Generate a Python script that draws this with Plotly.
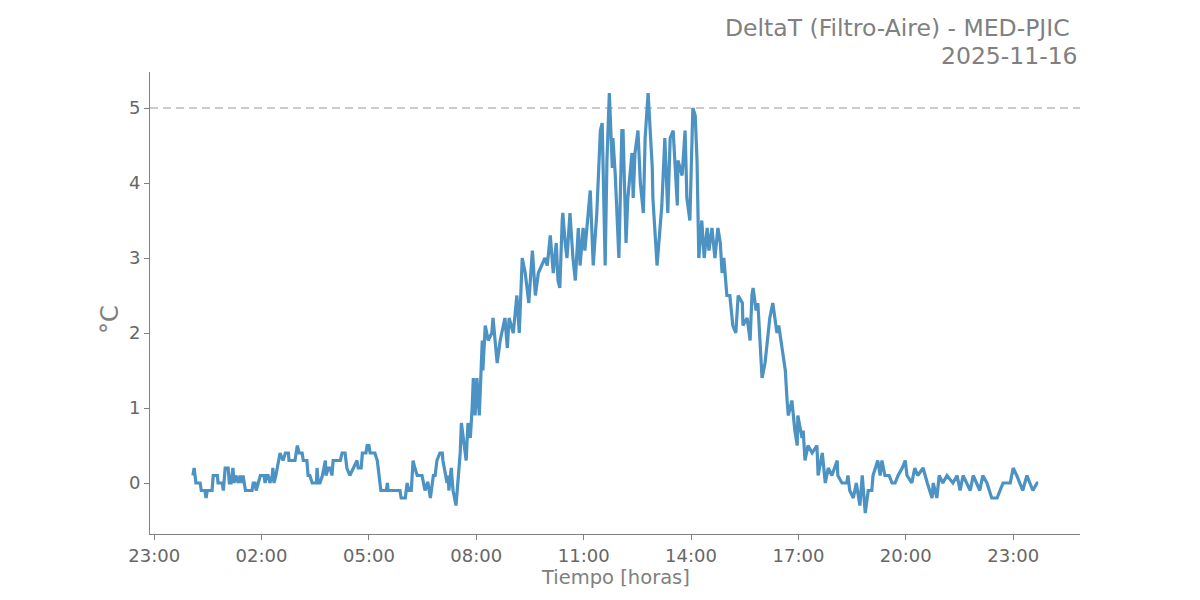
"""DeltaT (Filtro-Aire) time series for MED-PJIC, 2025-11-16."""

import pandas as pd
import plotly.graph_objects as go

DAY = "2025-11-16"
TITLE_LINE_1 = "DeltaT (Filtro-Aire) - MED-PJIC"
TITLE_LINE_2 = "2025-11-16"
X_LABEL = "Tiempo [horas]"
Y_LABEL = "°C"
THRESHOLD = 5

# minutes after midnight of DAY
minutes = [
    5, 7, 10, 17, 19, 25, 27, 29, 37, 39,
    46, 47, 54, 56, 57, 59, 64, 66, 69, 72,
    74, 77, 81, 84, 87, 89, 93, 104, 106, 109,
    111, 114, 118, 124, 126, 128, 131, 134, 138, 139,
    141, 144, 148, 151, 156, 160, 165, 166, 176, 180,
    183, 188, 190, 196, 198, 201, 205, 212, 213, 215,
    218, 222, 227, 228, 232, 235, 238, 240, 252, 255,
    260, 263, 268, 274, 280, 282, 287, 289, 295, 297,
    300, 302, 310, 314, 317, 320, 329, 331, 332, 352,
    354, 361, 364, 367, 371, 374, 377, 381, 389, 391,
    394, 398, 399, 403, 408, 411, 414, 419, 423, 424,
    428, 431, 433, 434, 438, 441, 446, 449, 451, 453,
    455, 458, 463, 466, 470, 473, 475, 478, 481, 485,
    490, 491, 495, 500, 506, 508, 512, 515, 520, 525,
    528, 532, 535, 542, 548, 552, 557, 562, 568, 574,
    579, 584, 590, 595, 599, 604, 609, 614, 617, 620,
    624, 625, 629, 632, 637, 642, 646, 651, 654, 659,
    662, 666, 671, 676, 682, 688, 691, 696, 699, 703,
    708, 709, 713, 719, 724, 726, 731, 734, 741, 743,
    746, 751, 755, 760, 763, 768, 775, 776, 783, 788,
    791, 796, 801, 805, 810, 817, 818, 825, 830, 833,
    838, 843, 847, 850, 853, 858, 862, 867, 870, 875,
    880, 885, 889, 892, 895, 900, 905, 910, 915, 919,
    926, 927, 934, 939, 942, 944, 949, 952, 959, 964,
    967, 972, 977, 984, 987, 993, 998, 1001, 1003, 1009,
    1014, 1018, 1019, 1026, 1028, 1031, 1036, 1043, 1051, 1053,
    1060, 1065, 1070, 1076, 1085, 1086, 1093, 1101, 1103, 1106,
    1112, 1117, 1123, 1127, 1132, 1137, 1143, 1145, 1153, 1157,
    1160, 1165, 1172, 1177, 1182, 1187, 1194, 1199, 1202, 1210,
    1215, 1220, 1229, 1236, 1244, 1246, 1252, 1256, 1262, 1269,
    1279, 1286, 1291, 1296, 1308, 1313, 1324, 1329, 1336, 1344,
    1353, 1358, 1363, 1375, 1380, 1386, 1391, 1396, 1403, 1408,
    1413, 1420, 1422,
]

delta_t = [
    0.1, 0.2, 0.0, 0.0, -0.1, -0.1, -0.2, -0.1, -0.1, 0.1,
    0.1, 0.0, 0.0, -0.1, 0.0, 0.2, 0.2, 0.0, 0.0, 0.2,
    0.0, 0.1, 0.0, 0.1, 0.0, 0.1, -0.1, -0.1, 0.0, 0.0,
    -0.1, 0.0, 0.1, 0.1, 0.0, 0.1, 0.1, 0.0, 0.1, 0.2,
    0.0, 0.1, 0.3, 0.4, 0.3, 0.4, 0.4, 0.3, 0.3, 0.5,
    0.4, 0.4, 0.3, 0.3, 0.1, 0.1, 0.0, 0.0, 0.2, 0.0,
    0.0, 0.1, 0.3, 0.1, 0.2, 0.2, 0.1, 0.3, 0.3, 0.4,
    0.4, 0.2, 0.1, 0.2, 0.3, 0.2, 0.2, 0.4, 0.4, 0.5,
    0.5, 0.4, 0.4, 0.3, 0.1, -0.1, -0.1, 0.0, -0.1, -0.1,
    -0.2, -0.2, 0.0, -0.1, -0.1, 0.3, 0.2, 0.1, 0.1, 0.0,
    -0.1, 0.0, 0.0, -0.2, 0.1, 0.1, 0.3, 0.4, 0.4, 0.3,
    0.1, 0.0, 0.1, -0.1, 0.2, -0.1, -0.3, 0.0, 0.3, 0.4,
    0.8, 0.6, 0.3, 0.8, 0.6, 1.0, 1.4, 0.9, 1.4, 0.9,
    1.9, 1.5, 2.1, 1.9, 2.0, 2.2, 1.8, 1.6, 1.9, 2.1,
    2.2, 1.8, 2.2, 2.0, 2.5, 2.0, 3.0, 2.8, 2.4, 3.1,
    2.5, 2.8, 2.9, 3.0, 2.9, 3.3, 2.8, 3.2, 2.7, 2.6,
    3.5, 3.6, 3.2, 3.0, 3.6, 3.0, 2.7, 3.4, 2.9, 3.4,
    3.1, 3.5, 3.9, 2.9, 3.6, 4.7, 4.8, 2.9, 4.3, 5.2,
    4.2, 4.6, 4.1, 3.0, 4.7, 4.7, 3.2, 3.8, 4.4, 3.8,
    4.4, 4.7, 4.0, 3.6, 4.6, 5.2, 4.2, 3.8, 2.9, 3.4,
    3.7, 4.6, 3.6, 4.6, 4.7, 3.7, 4.3, 4.1, 4.7, 3.8,
    3.5, 5.0, 4.9, 4.3, 3.0, 3.5, 3.0, 3.4, 3.1, 3.4,
    3.0, 3.4, 3.2, 2.8, 3.0, 2.5, 2.5, 2.1, 2.0, 2.5,
    2.4, 2.1, 2.2, 1.9, 2.5, 2.6, 2.3, 2.4, 1.4, 1.6,
    1.8, 2.2, 2.4, 2.0, 2.1, 1.8, 1.5, 1.1, 0.9, 1.1,
    0.7, 0.5, 0.9, 0.6, 0.7, 0.3, 0.5, 0.4, 0.5, 0.1,
    0.4, 0.0, 0.2, 0.1, 0.3, 0.1, 0.0, 0.0, 0.1, -0.1,
    -0.2, 0.0, -0.3, 0.1, -0.4, -0.1, -0.1, 0.1, 0.3, 0.1,
    0.3, 0.1, 0.1, 0.0, 0.0, 0.1, 0.2, 0.3, 0.1, 0.0,
    0.2, 0.1, 0.2, 0.0, -0.2, 0.0, -0.2, 0.1, 0.0, 0.1,
    0.0, 0.1, -0.1, 0.1, -0.1, 0.1, -0.1, 0.1, 0.0, -0.2,
    -0.2, -0.1, 0.0, 0.0, 0.2, 0.1, 0.0, -0.1, 0.1, 0.0,
    -0.1, 0.0, 0.0,
]

assert len(minutes) == len(delta_t)

LINE_COLOR = "#4c92c3"
GREY = "#808080"
TICK_GREY = "#666666"
FONT = "DejaVu Sans"

times = pd.Timestamp(DAY) + pd.to_timedelta(minutes, unit="min")

fig = go.Figure(
    go.Scatter(
        x=times,
        y=delta_t,
        mode="lines",
        line={"color": LINE_COLOR, "width": 3.2},
        showlegend=False,
    )
)

# umbral
fig.add_shape(
    type="line",
    xref="paper",
    yref="y",
    x0=0,
    x1=1,
    y0=THRESHOLD,
    y1=THRESHOLD,
    line={"color": "#bbbbbb", "width": 1.6, "dash": "8px,5px"},
    layer="below",
)

# the page body adds an 8px offset, so the margins are trimmed by that much
fig.update_layout(
    width=1200,
    height=600,
    margin={"l": 142, "r": 128, "t": 64, "b": 74},
    paper_bgcolor="white",
    plot_bgcolor="white",
    font={"family": FONT, "color": TICK_GREY, "size": 18},
    annotations=[
        {
            "text": TITLE_LINE_1,
            "xref": "paper",
            "yref": "paper",
            "x": 1 - 8 / 930,
            "y": 1 + 44 / 462,
            "xanchor": "right",
            "yanchor": "middle",
            "showarrow": False,
            "font": {"size": 23.5, "color": GREY},
        },
        {
            "text": TITLE_LINE_2,
            "xref": "paper",
            "yref": "paper",
            "x": 1,
            "y": 1 + 16 / 462,
            "xanchor": "right",
            "yanchor": "middle",
            "showarrow": False,
            "font": {"size": 23.5, "color": GREY},
        },
        {
            "text": Y_LABEL,
            "xref": "paper",
            "yref": "paper",
            "x": -40 / 930,
            "y": 0.5 - 17 / 462,
            "xanchor": "center",
            "yanchor": "middle",
            "textangle": -90,
            "showarrow": False,
            "font": {"size": 24, "color": GREY},
        },
        {
            "text": X_LABEL,
            "xref": "paper",
            "yref": "paper",
            "x": 0.5,
            "y": -43 / 462,
            "xanchor": "center",
            "yanchor": "middle",
            "showarrow": False,
            "font": {"size": 19.5, "color": GREY},
        },
    ],
)

fig.update_xaxes(
    type="date",
    range=["2025-11-15 22:53", "2025-11-17 00:52"],
    tick0="2025-11-15 23:00",
    dtick=3 * 60 * 60 * 1000,
    tickformat="%H:%M",
    showgrid=False,
    zeroline=False,
    showline=True,
    linecolor=GREY,
    linewidth=1,
    ticks="outside",
    ticklen=5,
    tickcolor=GREY,
    tickfont={"size": 18, "color": TICK_GREY},
)

fig.update_yaxes(
    range=[-0.68, 5.48],
    tickvals=[0, 1, 2, 3, 4, 5],
    showgrid=False,
    zeroline=False,
    showline=True,
    linecolor=GREY,
    linewidth=1,
    ticks="outside",
    ticklen=5,
    tickcolor=GREY,
    tickfont={"size": 18, "color": TICK_GREY},
)

fig.write_html("out.html")
